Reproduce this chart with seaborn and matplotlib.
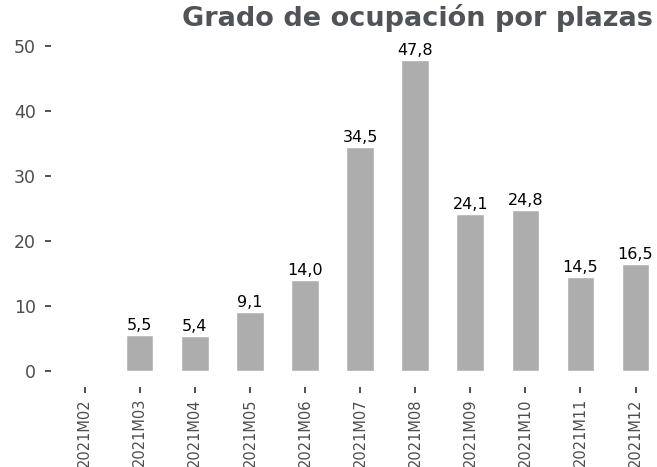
import numpy as np
import pandas as pd
import matplotlib
matplotlib.use("Agg")
import matplotlib.pyplot as plt
import seaborn as sns

# data
months = ["2021M02", "2021M03", "2021M04", "2021M05", "2021M06", "2021M07",
          "2021M08", "2021M09", "2021M10", "2021M11", "2021M12"]
ocupacion = [np.nan, 5.5, 5.4, 9.1, 14.0, 34.5, 47.8, 24.1, 24.8, 14.5, 16.5]
y_ticks = [0, 10, 20, 30, 40, 50]
title = "Grado de ocupación por plazas"

df = pd.DataFrame({"mes": months, "valor": ocupacion})

sns.set_theme(style="white")
plt.rcParams["font.family"] = ["DejaVu Sans"]

fig = plt.figure(figsize=(6.57, 4.67), dpi=100)
ax = fig.add_axes([51 / 657, 80 / 467, 606 / 657, 357 / 467])

sns.barplot(data=df.dropna(), x="mes", y="valor", order=months,
            color="#ADADAD", saturation=1, width=0.5, ax=ax)

# value labels with decimal comma
labels = [f"{v:.1f}".replace(".", ",") for v in ocupacion if not np.isnan(v)]
ax.bar_label(ax.containers[0], labels=labels, padding=1.5, fontsize=11.5,
             color="black", family="DejaVu Sans")

ax.set_xlim(-0.61, 10.39)
ax.set_ylim(-2.46, 52.46)
ax.set_yticks(y_ticks)
ax.set_xlabel("")
ax.set_ylabel("")
for s in ax.spines.values():
    s.set_visible(False)

ax.tick_params(axis="both", which="both", length=4, width=1.2, color="#333333",
               labelcolor="#4D4D4D", pad=3, direction="out",
               bottom=True, left=True)
ax.tick_params(axis="y", labelsize=12.5, pad=7)
ax.tick_params(axis="x", labelsize=10.5, pad=4)
plt.setp(ax.get_xticklabels(), rotation=90, va="top", ha="center")

fig.text(653 / 657, 1 - 18 / 467, title, ha="right", va="center",
         fontsize=19.5, fontweight="bold", color="#505459", family="DejaVu Sans")

fig.savefig("out.png", dpi=100)
